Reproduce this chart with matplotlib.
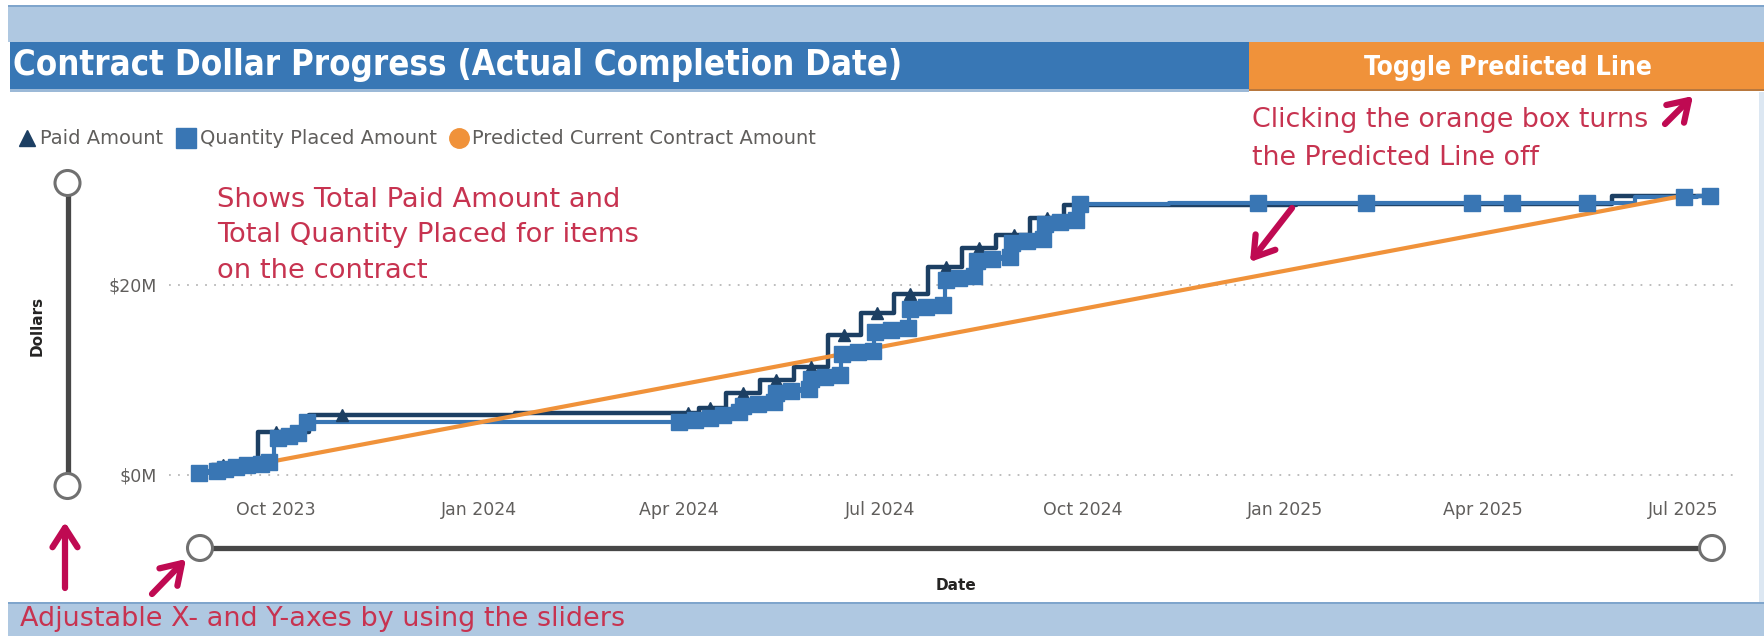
import matplotlib
matplotlib.use('Agg')
import matplotlib.pyplot as plt
import numpy as np
from matplotlib import font_manager
from matplotlib.lines import Line2D
from matplotlib.patches import Rectangle, Circle

# ---------------- data ----------------
title_text = 'Contract Dollar Progress (Actual Completion Date)'
toggle_text = 'Toggle Predicted Line'
legend_labels = ['Paid Amount', 'Quantity Placed Amount', 'Predicted Current Contract Amount']

paid_dates = ['2023-08-28', '2023-09-07', '2023-09-15', '2023-10-01', '2023-10-31',
              '2024-04-05', '2024-04-15', '2024-04-30', '2024-05-15', '2024-05-31',
              '2024-06-15', '2024-06-30', '2024-07-15', '2024-07-31', '2024-08-15',
              '2024-08-31', '2024-09-15', '2024-09-30', '2025-04-14',
              '2025-07-14']
paid_values = [0.3, 1.0, 1.3, 4.5, 6.3,
               6.5, 7.1, 8.6, 10.0, 11.4,
               14.7, 17.0, 19.0, 21.9, 23.9,
               25.3, 27.0, 28.45, 28.5,
               29.4]

placed_dates = ['2023-08-27', '2023-09-04', '2023-09-08', '2023-09-13', '2023-09-18',
                '2023-09-24', '2023-09-28', '2023-10-02', '2023-10-07', '2023-10-11',
                '2023-10-15',
                '2024-04-01', '2024-04-08', '2024-04-15', '2024-04-21', '2024-04-28',
                '2024-04-30', '2024-05-07', '2024-05-14',
                '2024-05-15', '2024-05-22', '2024-05-30',
                '2024-05-31', '2024-06-06', '2024-06-13',
                '2024-06-14', '2024-06-21', '2024-06-28',
                '2024-06-29', '2024-07-06', '2024-07-14',
                '2024-07-15', '2024-07-22', '2024-07-30',
                '2024-07-31', '2024-08-06', '2024-08-13',
                '2024-08-14', '2024-08-21', '2024-08-29',
                '2024-08-30', '2024-09-06', '2024-09-13',
                '2024-09-14', '2024-09-21', '2024-09-28',
                '2024-09-30',
                '2024-12-20', '2025-02-07', '2025-03-27', '2025-04-14', '2025-05-18',
                '2025-07-01', '2025-07-13']
placed_values = [0.2, 0.4, 0.6, 0.8, 1.0,
                 1.2, 1.4, 3.9, 4.1, 4.4,
                 5.6,
                 5.6, 5.8, 6.0, 6.3, 6.6,
                 7.3, 7.5, 7.7,
                 8.6, 8.8, 9.0,
                 10.1, 10.3, 10.5,
                 12.7, 12.9, 13.1,
                 15.1, 15.3, 15.5,
                 17.5, 17.7, 17.9,
                 20.5, 20.7, 20.9,
                 22.5, 22.7, 22.9,
                 24.4, 24.6, 24.8,
                 26.4, 26.6, 26.8,
                 28.5,
                 28.6, 28.6, 28.6, 28.6, 28.6,
                 29.3, 29.4]

predicted_dates = ['2023-10-01', '2025-07-01']
predicted_values = [1.5, 29.4]

y_ticks = [0, 20]
y_tick_labels = ['$0M', '$20M']
x_tick_dates = ['2023-10-01', '2024-01-01', '2024-04-01', '2024-07-01',
                '2024-10-01', '2025-01-01', '2025-04-01', '2025-07-01']
x_tick_labels = ['Oct 2023', 'Jan 2024', 'Apr 2024', 'Jul 2024',
                 'Oct 2024', 'Jan 2025', 'Apr 2025', 'Jul 2025']

note_left = ['Shows Total Paid Amount and', 'Total Quantity Placed for items', 'on the contract']
note_right = ['Clicking the orange box turns', 'the Predicted Line off']
note_bottom = 'Adjustable X- and Y-axes by using the sliders'

# ---------------- style ----------------
NAVY = '#1C3F63'
BLUE = '#3976B4'
ORANGE = '#F0923A'
LIGHT = '#AFC8E1'
TITLEBLUE = '#3877B5'
RED = '#C73350'
ARROW = '#BF0A52'
GREY = '#605E5C'

names = {f.name for f in font_manager.fontManager.ttflist}
NARROW = {'family': 'DejaVu Sans'}
if 'Liberation Sans Narrow' in names:
    NARROW = {'family': 'Liberation Sans Narrow'}
elif any(f.name == 'DejaVu Sans' and f.stretch == 'condensed' for f in font_manager.fontManager.ttflist):
    NARROW = {'family': 'DejaVu Sans', 'stretch': 'condensed'}

W, H = 1764, 636
fig = plt.figure(figsize=(W / 100, H / 100), dpi=100)
fig.patch.set_facecolor('white')


def fx(px):
    return px / W


def fy(py):
    return 1 - py / H


# background layer (pixel coordinates)
bg = fig.add_axes([0, 0, 1, 1], zorder=0)
bg.set_xlim(0, W)
bg.set_ylim(H, 0)
bg.axis('off')

bg.add_patch(Rectangle((8, 5), W - 8, 2, facecolor='#7FA5CC', edgecolor='none'))
bg.add_patch(Rectangle((8, 7), W - 8, 35, facecolor=LIGHT, edgecolor='none'))
bg.add_patch(Rectangle((10, 42), 1239, 47, facecolor=TITLEBLUE, edgecolor='none'))
bg.add_patch(Rectangle((1249, 42), W - 1249, 47, facecolor=ORANGE, edgecolor='none'))
bg.add_patch(Rectangle((10, 89), 1239, 3, facecolor='#9CB9D7', edgecolor='none'))
bg.add_patch(Rectangle((1249, 89), W - 1249, 2, facecolor='#B8783E', edgecolor='none'))
bg.add_patch(Rectangle((8, 602), W - 8, 2, facecolor='#7FA5CC', edgecolor='none'))
bg.add_patch(Rectangle((8, 604), W - 8, 32, facecolor=LIGHT, edgecolor='none'))
bg.add_patch(Rectangle((1759, 92), 5, 510, facecolor='#DCE7F2', edgecolor='none'))

# sliders
bg.plot([67.5, 67.5], [183, 486], color='#474747', lw=3.8, solid_capstyle='butt', zorder=2)
bg.plot([200, 1712], [548, 548], color='#474747', lw=3.8, solid_capstyle='butt', zorder=2)
for cx, cy in [(67.5, 183), (67.5, 486), (200, 548), (1712, 548)]:
    bg.add_patch(Circle((cx, cy), 12.5, facecolor='white', edgecolor='#707070', lw=2.2, zorder=3))

# ---------------- main chart ----------------
ax = fig.add_axes([fx(169), fy(490), (1733 - 169) / W, (490 - 165) / H], zorder=1)
ax.patch.set_alpha(0)
for s in ax.spines.values():
    s.set_visible(False)

pdates = np.array(paid_dates, dtype='datetime64[D]')
qdates = np.array(placed_dates, dtype='datetime64[D]')
rdates = np.array(predicted_dates, dtype='datetime64[D]')

ax.plot(pdates, paid_values, drawstyle='steps-mid', color=NAVY, lw=3.2, zorder=2)
ax.plot(qdates, placed_values, drawstyle='steps-mid', color=BLUE, lw=3.0, zorder=2.5)
ax.plot(rdates, predicted_values, color=ORANGE, lw=3.0, zorder=3, solid_capstyle='butt')
ax.plot(pdates, paid_values, ls='none', marker='^', ms=8, color=NAVY, zorder=4)
ax.plot(qdates, placed_values, ls='none', marker='s', ms=12, color=BLUE, zorder=5)

ax.set_xlim(np.datetime64('2023-08-13T10:00'), np.datetime64('2025-07-23T10:00'))
ax.set_ylim(-1.58, 32.63)
ax.set_yticks(y_ticks)
ax.set_yticklabels(y_tick_labels)
ax.set_xticks(np.array(x_tick_dates, dtype='datetime64[D]'))
ax.set_xticklabels(x_tick_labels)
ax.tick_params(axis='both', length=0, colors=GREY, labelsize=12.5)
ax.tick_params(axis='x', pad=8)
ax.tick_params(axis='y', pad=8.5)
ax.yaxis.grid(True, linestyle=(0, (1, 4)), color='#B8B8B8', lw=1.3)
ax.xaxis.grid(False)
ax.set_axisbelow(True)

# legend
handles = [Line2D([], [], ls='none', marker='^', ms=11, color=NAVY),
           Line2D([], [], ls='none', marker='s', ms=15, color=BLUE),
           Line2D([], [], ls='none', marker='o', ms=14, color=ORANGE)]
fig.legend(handles, legend_labels, loc='center left', bbox_to_anchor=(fx(20), fy(139)),
           ncol=3, frameon=False, fontsize=14, handlelength=0.7, handletextpad=0.35,
           columnspacing=0.8, borderpad=0, borderaxespad=0, labelcolor=GREY)

# axis titles
fig.text(fx(37), fy(326), 'Dollars', rotation=90, ha='center', va='center',
         fontsize=11, fontweight='bold', color='#252423')
fig.text(fx(956), fy(585), 'Date', ha='center', va='center',
         fontsize=11, fontweight='bold', color='#252423')

renderer = fig.canvas.get_renderer()


def fit(t, target_w):
    w = t.get_window_extent(renderer=renderer).width
    t.set_fontsize(t.get_fontsize() * target_w / w)


# title + toggle
t = fig.text(fx(13), fy(65), title_text, color='white', fontweight='bold', fontsize=24,
             ha='left', va='center', **NARROW)
fit(t, 890)
t = fig.text(fx(1508), fy(68), toggle_text, color='white', fontweight='bold', fontsize=16,
             ha='center', va='center', **NARROW)
fit(t, 287)

# annotation layer
fg = fig.add_axes([0, 0, 1, 1], zorder=2)
fg.set_xlim(0, W)
fg.set_ylim(H, 0)
fg.axis('off')
fg.patch.set_alpha(0)

t0 = fig.text(fx(217), fy(200), note_left[0], color=RED, fontsize=18, ha='left', va='center', zorder=6)
fit(t0, 404)
fs = t0.get_fontsize()
for line, yy in zip(note_left[1:], [235, 271]):
    fig.text(fx(217), fy(yy), line, color=RED, fontsize=fs, ha='left', va='center', zorder=6)

t1 = fig.text(fx(1252), fy(120), note_right[0], color=RED, fontsize=18, ha='left', va='center', zorder=6)
fit(t1, 396)
fig.text(fx(1252), fy(158), note_right[1], color=RED, fontsize=t1.get_fontsize(),
         ha='left', va='center', zorder=6)

t2 = fig.text(fx(20), fy(619), note_bottom, color=RED, fontsize=18, ha='left', va='center', zorder=6)
fit(t2, 604)

arrows = [((1665, 124), (1693, 96)),
          ((1292, 208), (1250, 262)),
          ((65, 588), (65, 522)),
          ((152, 594), (186, 559))]
for tail, head in arrows:
    fg.annotate('', xy=head, xytext=tail,
                arrowprops=dict(arrowstyle='->,head_length=0.7,head_width=0.45', lw=4.5,
                                color=ARROW, shrinkA=0, shrinkB=0, mutation_scale=20,
                                capstyle='round', joinstyle='round'))

fig.savefig('out.png', dpi=100, facecolor='white')
